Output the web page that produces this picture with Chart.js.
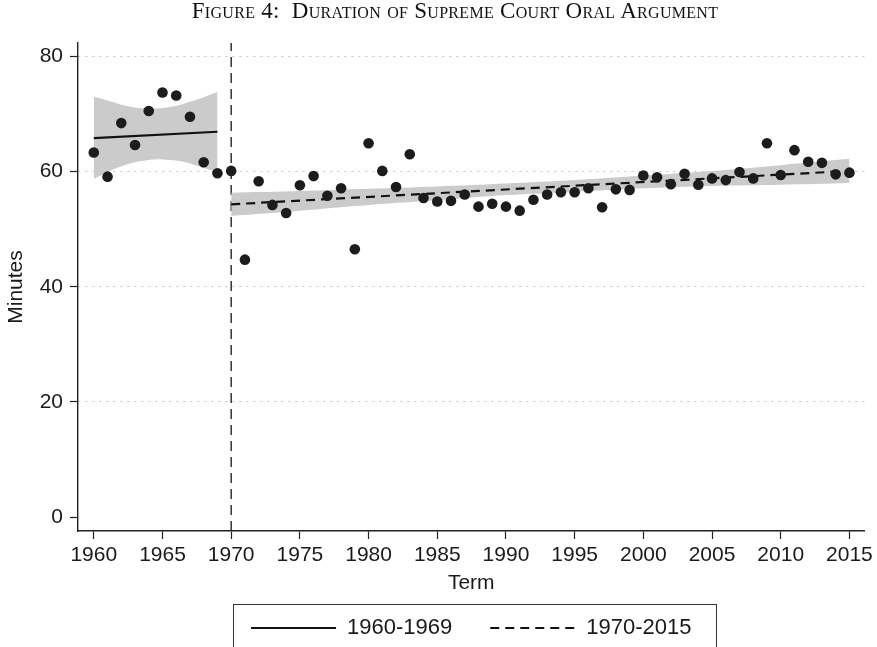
<!DOCTYPE html>
<html>
<head>
<meta charset="utf-8">
<title>Duration of Supreme Court Oral Argument</title>
<script src="https://cdn.jsdelivr.net/npm/chart.js@4.4.1/dist/chart.umd.min.js"></script>
<style>
  html, body { margin: 0; padding: 0; background: #fff; }
  #wrap { position: relative; width: 877px; height: 647px; overflow: hidden; }
  #title {
    position: absolute; left: 0; top: -2px; width: 910px; text-align: center;
    font: 23px "Liberation Serif", serif; font-variant: small-caps;
    white-space: pre; color: #111; letter-spacing: 0.3px;
  }
</style>
</head>
<body>
<div id="wrap">
  <div id="title">Figure 4:  Duration of Supreme Court Oral Argument</div>
  <canvas id="durationChart"></canvas>
</div>
<script>
// average oral argument length per term (minutes)
const terms = [1960, 1961, 1962, 1963, 1964, 1965, 1966, 1967, 1968, 1969,
  1970, 1971, 1972, 1973, 1974, 1975, 1976, 1977, 1978, 1979,
  1980, 1981, 1982, 1983, 1984, 1985, 1986, 1987, 1988, 1989,
  1990, 1991, 1992, 1993, 1994, 1995, 1996, 1997, 1998, 1999,
  2000, 2001, 2002, 2003, 2004, 2005, 2006, 2007, 2008, 2009,
  2010, 2011, 2012, 2013, 2014, 2015];
const minutes = [63.3, 59.1, 68.4, 64.6, 70.5, 73.7, 73.2, 69.5, 61.6, 59.7,
  60.1, 44.7, 58.3, 54.2, 52.8, 57.6, 59.2, 55.8, 57.1, 46.5,
  64.9, 60.1, 57.3, 63.0, 55.4, 54.8, 54.9, 56.0, 53.9, 54.4,
  53.9, 53.2, 55.1, 56.0, 56.4, 56.4, 57.1, 53.8, 56.9, 56.8,
  59.3, 59.0, 57.8, 59.6, 57.7, 58.8, 58.5, 59.9, 58.8, 64.9,
  59.4, 63.7, 61.7, 61.5, 59.5, 59.8];

// linear fits
const earlyFitTerms = [1960, 1969];
const earlyFit = [65.8, 66.9];
const lateFitTerms = [1970, 2015];
const lateFit = [54.3, 60.1];

// confidence bands
const earlyBandTerms = [1960, 1961, 1962, 1963, 1964, 1965, 1966, 1967, 1968, 1969];
const earlyUpper = [73.0, 72.3, 71.6, 71.1, 70.9, 71.0, 71.4, 72.1, 72.9, 73.8];
const earlyLower = [58.7, 59.9, 60.9, 61.6, 62.0, 62.1, 61.9, 61.4, 60.6, 59.9];
const lateBandTerms = [1970, 1975, 1980, 1985, 1990, 1995, 2000, 2005, 2010, 2015];
const lateUpper = [56.3, 56.6, 57.0, 57.4, 57.9, 58.5, 59.3, 60.1, 61.1, 62.2];
const lateLower = [52.3, 53.2, 54.2, 55.0, 55.9, 56.5, 57.1, 57.5, 57.7, 58.0];

const termTicks = [1960, 1965, 1970, 1975, 1980, 1985, 1990, 1995, 2000, 2005, 2010, 2015];
const minuteTicks = [0, 20, 40, 60, 80];
const fitLabels = ['1960-1969', '1970-2015'];
const breakTerm = 1970;
const yMin = -2.4, yMax = 82.3;

const pts = (xs, ys) => xs.map((x, i) => ({x: x, y: ys[i]}));

const axisFont = {family: '"Liberation Sans", Arial, sans-serif', size: 21};
const ink = '#1a1a1a';
const bandColor = '#cbcbcb';

// legend: center it on the plot and draw its frame
const legendFrame = {
  id: 'legendFrame',
  afterLayout(chart) {
    const lg = chart.legend;
    const shift = (chart.chartArea.left + chart.chartArea.right) / 2 - (lg.left + lg.right) / 2;
    lg.left += shift;
    lg.right += shift;
  },
  afterDraw(chart) {
    const boxes = chart.legend.legendHitBoxes;
    if (!boxes || !boxes.length) return;
    const first = boxes[0], last = boxes[boxes.length - 1];
    const left = Math.round(first.left - 18);
    const right = Math.round(last.left + last.width + 25);
    const top = Math.round(first.top + first.height / 2 - 24);
    const ctx = chart.ctx;
    ctx.save();
    ctx.strokeStyle = '#333';
    ctx.lineWidth = 1;
    ctx.strokeRect(left + 0.5, top + 0.5, right - left, chart.height - top + 10);
    ctx.restore();
  }
};

const ctxDuration = document.getElementById('durationChart').getContext('2d');
const durationChart = new Chart(ctxDuration, {
  type: 'line',
  data: {
    datasets: [
      {
        type: 'scatter',
        label: 'Term average',
        data: pts(terms, minutes),
        pointRadius: 5.3,
        pointBackgroundColor: '#1c1c1c',
        pointBorderWidth: 0,
        order: 0
      },
      {
        label: fitLabels[0],
        data: pts(earlyFitTerms, earlyFit),
        borderColor: '#111',
        borderWidth: 2.2,
        pointRadius: 0,
        order: 1
      },
      {
        label: fitLabels[1],
        data: pts(lateFitTerms, lateFit),
        borderColor: '#111',
        borderWidth: 2.2,
        borderDash: [9, 6],
        pointRadius: 0,
        order: 2
      },
      {
        label: 'ci-early-upper',
        data: pts(earlyBandTerms, earlyUpper),
        borderWidth: 0,
        pointRadius: 0,
        tension: 0.3,
        backgroundColor: bandColor,
        fill: '+1',
        order: 3
      },
      {
        label: 'ci-early-lower',
        data: pts(earlyBandTerms, earlyLower),
        borderWidth: 0,
        pointRadius: 0,
        tension: 0.3,
        fill: false,
        order: 3
      },
      {
        label: 'ci-late-upper',
        data: pts(lateBandTerms, lateUpper),
        borderWidth: 0,
        pointRadius: 0,
        tension: 0.3,
        backgroundColor: bandColor,
        fill: '+1',
        order: 4
      },
      {
        label: 'ci-late-lower',
        data: pts(lateBandTerms, lateLower),
        borderWidth: 0,
        pointRadius: 0,
        tension: 0.3,
        fill: false,
        order: 4
      },
      {
        label: 'break',
        data: [{x: breakTerm, y: yMin}, {x: breakTerm, y: yMax}],
        borderColor: '#222',
        borderWidth: 1.4,
        borderDash: [10, 6],
        pointRadius: 0,
        order: 5
      }
    ]
  },
  options: {
    responsive: true,
    maintainAspectRatio: false,
    animation: false,
    layout: {padding: {left: 0, right: 12, top: 43, bottom: -2}},
    plugins: {
      tooltip: {enabled: false},
      legend: {
        position: 'bottom',
        labels: {
          filter: item => fitLabels.includes(item.text),
          generateLabels: chart => {
            const items = Chart.defaults.plugins.legend.labels.generateLabels(chart);
            items.forEach(item => {
              const ds = chart.data.datasets[item.datasetIndex];
              item.lineDash = ds.borderDash || [];
              item.lineWidth = ds.borderWidth;
              item.strokeStyle = ds.borderColor;
            });
            return items;
          },
          usePointStyle: true,
          pointStyle: 'line',
          pointStyleWidth: 85,
          padding: 38,
          color: ink,
          font: {family: '"Liberation Sans", Arial, sans-serif', size: 22}
        }
      }
    },
    scales: {
      x: {
        type: 'linear',
        min: 1958.85,
        max: 2016.1,
        afterBuildTicks: s => { s.ticks = termTicks.map(v => ({value: v})); },
        afterFit: s => { s.height = 48; },
        ticks: {font: axisFont, color: ink, padding: 4, maxRotation: 0, autoSkip: false, callback: v => String(v)},
        grid: {drawOnChartArea: false, tickLength: 8, tickColor: '#222', tickWidth: 1.2},
        border: {color: '#222', width: 1.4},
        title: {display: true, text: 'Term', font: axisFont, color: ink, padding: {top: 0, bottom: -16.6}}
      },
      y: {
        min: yMin,
        max: yMax,
        afterBuildTicks: s => { s.ticks = minuteTicks.map(v => ({value: v})); },
        afterFit: s => { s.width = 78; },
        ticks: {font: axisFont, color: ink, padding: 7, callback: v => String(v)},
        grid: {
          color: c => (c.tick && c.tick.value === 0) ? 'rgba(0,0,0,0)' : '#c4c4c4',
          lineWidth: 1,
          tickLength: 8,
          tickColor: '#222',
          tickWidth: 1.2
        },
        border: {color: '#222', width: 1.4, dash: [2, 5]},
        title: {display: true, text: 'Minutes', font: axisFont, color: ink, padding: {top: 4, bottom: 0}}
      }
    }
  },
  plugins: [legendFrame]
});
</script>
</body>
</html>
